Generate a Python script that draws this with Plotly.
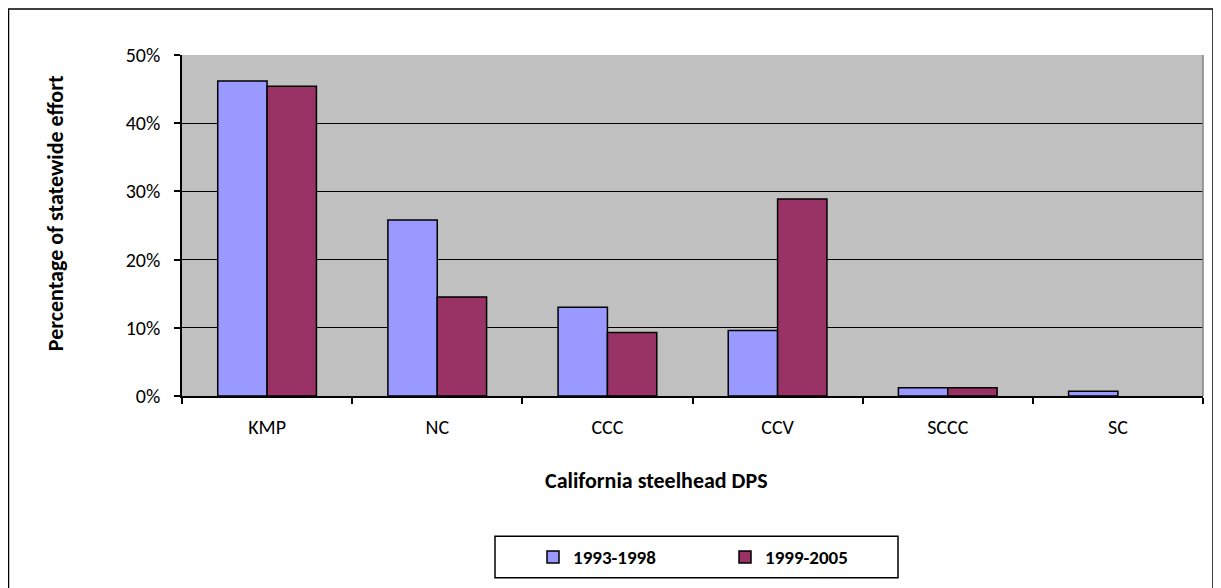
import plotly.graph_objects as go

categories = ["KMP", "NC", "CCC", "CCV", "SCCC", "SC"]
series_names = ["1993-1998", "1999-2005"]
values_1993_1998 = [0.462, 0.258, 0.130, 0.096, 0.012, 0.007]
values_1999_2005 = [0.454, 0.145, 0.093, 0.289, 0.012, None]
y_ticks = [0, 0.1, 0.2, 0.3, 0.4, 0.5]
y_tick_labels = ["0%", "10%", "20%", "30%", "40%", "50%"]

FONT = "Carlito, Lato, sans-serif"

fig = go.Figure()
fig.add_trace(go.Bar(x=categories, y=values_1993_1998, name=series_names[0],
                     marker=dict(color="#9999FF", line=dict(color="black", width=1.5))))
fig.add_trace(go.Bar(x=categories, y=values_1999_2005, name=series_names[1],
                     marker=dict(color="#993366", line=dict(color="black", width=1.5))))

# page has an 8px body margin: figure origin is at page (8, 8)
OFF = 8
W, H = 1221 - OFF, 588 - OFF
L, T = 182 - OFF, 55 - OFF
R = W - (1203 - OFF)
B = H - (400 - OFF)
pw, ph = W - L - R, H - T - B

def px(x):
    return (x - OFF - L) / pw

def py(y):
    return (H - B - (y - OFF)) / ph

fig.update_layout(
    width=W, height=H,
    margin=dict(l=L, r=R, t=T, b=B, pad=0),
    paper_bgcolor="white",
    plot_bgcolor="#C0C0C0",
    barmode="group",
    bargap=0.42,
    bargroupgap=0,
    font=dict(family=FONT, size=20, color="black"),
    showlegend=True,
    legend=dict(
        orientation="h",
        x=px(533), y=py(563), xanchor="left", yanchor="middle",
        borderwidth=0,
        font=dict(family=FONT, size=19, color="black", weight="bold"),
        entrywidth=147, entrywidthmode="pixels",
        itemwidth=30,
        bgcolor="rgba(0,0,0,0)",
    ),
    xaxis=dict(
        type="category",
        showline=True, linecolor="black", linewidth=1.5,
        ticks="outside", ticklen=6, tickcolor="black", tickwidth=1.5,
        tickson="boundaries",
        showgrid=False,
        tickfont=dict(family=FONT, size=20, color="black"),
        ticklabelstandoff=12,
    ),
    yaxis=dict(
        range=[0, 0.5],
        tickvals=y_ticks, ticktext=y_tick_labels,
        showline=True, linecolor="black", linewidth=1.5,
        ticks="outside", ticklen=6, tickcolor="black", tickwidth=1.5,
        showgrid=True, gridcolor="black", gridwidth=1.2,
        tickfont=dict(family=FONT, size=20, color="black"),
        ticklabelstandoff=10,
        zeroline=False,
    ),
    annotations=[
        dict(text="California steelhead DPS", xref="paper", yref="paper",
             x=px(656), y=py(485), xanchor="center", yanchor="middle",
             showarrow=False, font=dict(family=FONT, size=22, color="black", weight="bold")),
        dict(text="Percentage of statewide effort", xref="paper", yref="paper",
             x=px(55), y=py(215), xanchor="center", yanchor="middle", textangle=-90,
             showarrow=False, font=dict(family=FONT, size=22, color="black", weight="bold")),
    ],
    shapes=[
        dict(type="rect", xref="paper", yref="paper",
             x0=px(8.5), x1=px(1213), y0=py(640), y1=py(8.5),
             line=dict(color="black", width=1.5), layer="below"),
        dict(type="line", xref="paper", yref="paper",
             x0=1, x1=1, y0=0, y1=1, line=dict(color="#808080", width=1.5)),
        dict(type="rect", xref="paper", yref="paper",
             x0=px(495), x1=px(898), y0=py(584), y1=py(542),
             line=dict(color="black", width=1.5), fillcolor="white", layer="below"),
    ],
)

fig.write_html("out.html")
